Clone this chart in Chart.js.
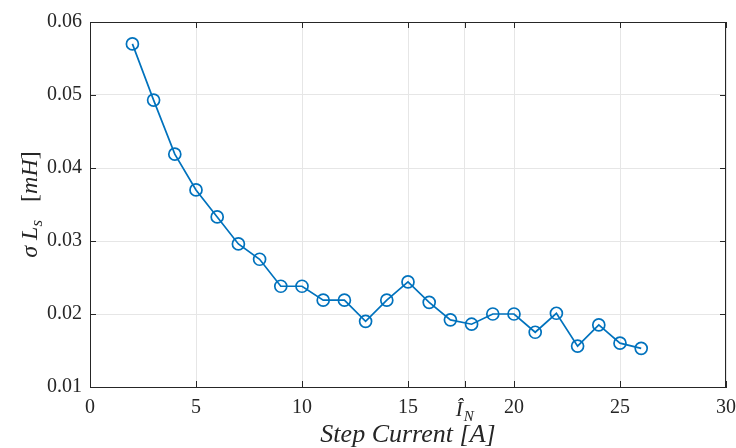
<!DOCTYPE html>
<html>
<head>
<meta charset="utf-8">
<script src="https://cdn.jsdelivr.net/npm/chart.js@4.4.0/dist/chart.umd.min.js"></script>
<style>
  html, body { margin: 0; padding: 0; background: #fff; }
  #wrap { width: 736px; height: 448px; }
</style>
</head>
<body>
<div id="wrap"><canvas id="sigma-canvas" width="736" height="448"></canvas></div>
<script>
// step current [A]
let stepCurrent = [2, 3, 4, 5, 6, 7, 8, 9, 10, 11, 12, 13, 14, 15, 16, 17, 18, 19, 20, 21, 22, 23, 24, 25, 26];
// sigma*Ls [mH]
let sigmaLs = [0.0570, 0.0493, 0.0419, 0.0370, 0.0333, 0.0296, 0.0275, 0.0238, 0.0238, 0.0219, 0.0219, 0.0190,
  0.0219, 0.0244, 0.0216, 0.0192, 0.0186, 0.0200, 0.0200, 0.0175, 0.0201, 0.0156, 0.0185, 0.0160, 0.0153];
let xTicks = [0, 5, 10, 15, 20, 25, 30];
let yTicks = [0.01, 0.02, 0.03, 0.04, 0.05, 0.06];
let ratedCurrent = 17.68; // I_N hat tick

const serif = '"Liberation Serif", "DejaVu Serif", serif';
const axisColor = '#262626';

/*box and inward ticks like matlab*/
let boxPlugin = {
  id: 'box',
  afterDraw(chart) {
    let ctx = chart.ctx;
    let a = chart.chartArea;
    let xs = chart.scales.x, ys = chart.scales.y;
    ctx.save();
    ctx.strokeStyle = axisColor;
    ctx.lineWidth = 1;
    ctx.strokeRect(a.left + 0.5, a.top + 0.5, a.right - a.left - 1, a.bottom - a.top);
    ctx.beginPath();
    xs.ticks.forEach(t => {
      let px = Math.round(xs.getPixelForValue(t.value)) + 0.5;
      ctx.moveTo(px, a.bottom); ctx.lineTo(px, a.bottom - 6);
      ctx.moveTo(px, a.top); ctx.lineTo(px, a.top + 6);
    });
    ys.ticks.forEach(t => {
      let py = Math.round(ys.getPixelForValue(t.value)) + 0.5;
      ctx.moveTo(a.left, py); ctx.lineTo(a.left + 6, py);
      ctx.moveTo(a.right, py); ctx.lineTo(a.right - 6, py);
    });
    ctx.stroke();

    /*I_N hat tick label*/
    let px = xs.getPixelForValue(ratedCurrent);
    ctx.fillStyle = axisColor;
    ctx.textBaseline = 'alphabetic';
    ctx.textAlign = 'left';
    ctx.font = 'italic 21px ' + serif;
    ctx.fillText('Î', px - 9, 416);
    ctx.font = 'italic 15px ' + serif;
    ctx.fillText('N', px - 1, 421);

    /*y title with subscript*/
    ctx.translate(29, (a.top + a.bottom) / 2);
    ctx.rotate(-Math.PI / 2);
    let parts = [
      ['italic 24px ' + serif, 'σ L', 0],
      ['italic 17px ' + serif, 's', 5],
      ['24px ' + serif, '   [', 0],
      ['italic 24px ' + serif, 'mH', 0],
      ['24px ' + serif, ']', 0]
    ];
    let total = 0;
    parts.forEach(p => { ctx.font = p[0]; total += ctx.measureText(p[1]).width; });
    let cx = -total / 2;
    parts.forEach(p => {
      ctx.font = p[0];
      ctx.fillText(p[1], cx, 8 + p[2]);
      cx += ctx.measureText(p[1]).width;
    });
    ctx.restore();
  }
};

let sigmaChart = new Chart(document.getElementById('sigma-canvas'), {
  type: 'line',
  data: {
    datasets: [{
      data: stepCurrent.map((x, i) => ({ x: x, y: sigmaLs[i] })),
      borderColor: '#0072BD',
      borderWidth: 1.7,
      pointRadius: 6,
      pointHoverRadius: 6,
      pointBorderWidth: 1.7,
      pointBorderColor: '#0072BD',
      pointBackgroundColor: 'rgba(0,0,0,0)',
      tension: 0
    }]
  },
  options: {
    responsive: false,
    animation: false,
    layout: { padding: { top: 22, right: 10, left: 0, bottom: 0 } },
    plugins: { legend: { display: false }, tooltip: { enabled: false } },
    scales: {
      x: {
        type: 'linear',
        min: 0, max: 30,
        afterBuildTicks: scale => {
          let t = xTicks.map(v => ({ value: v }));
          t.push({ value: ratedCurrent });
          t.sort((a, b) => a.value - b.value);
          scale.ticks = t;
        },
        afterFit: scale => {
          scale.height = 61;
          scale.paddingRight = 0;
          scale.paddingLeft = 0;
        },
        grid: { color: '#e6e6e6', drawTicks: false },
        border: { color: axisColor },
        ticks: {
          padding: 9,
          color: axisColor,
          font: { family: serif, size: 20 },
          maxRotation: 0,
          autoSkip: false,
          callback: v => (v === ratedCurrent ? '' : String(v))
        },
        title: {
          display: true,
          text: 'Step Current [A]',
          color: axisColor,
          padding: { top: 2, bottom: -3 },
          font: { family: serif, size: 26, style: 'italic' }
        }
      },
      y: {
        min: 0.01, max: 0.06,
        afterBuildTicks: scale => { scale.ticks = yTicks.map(v => ({ value: v })); },
        afterFit: scale => { scale.width = 90; },
        grid: { color: '#e6e6e6', drawTicks: false },
        border: { color: axisColor },
        ticks: {
          padding: 8,
          color: axisColor,
          font: { family: serif, size: 20 },
          callback: v => v.toFixed(2)
        }
      }
    }
  },
  plugins: [boxPlugin]
});
</script>
</body>
</html>
